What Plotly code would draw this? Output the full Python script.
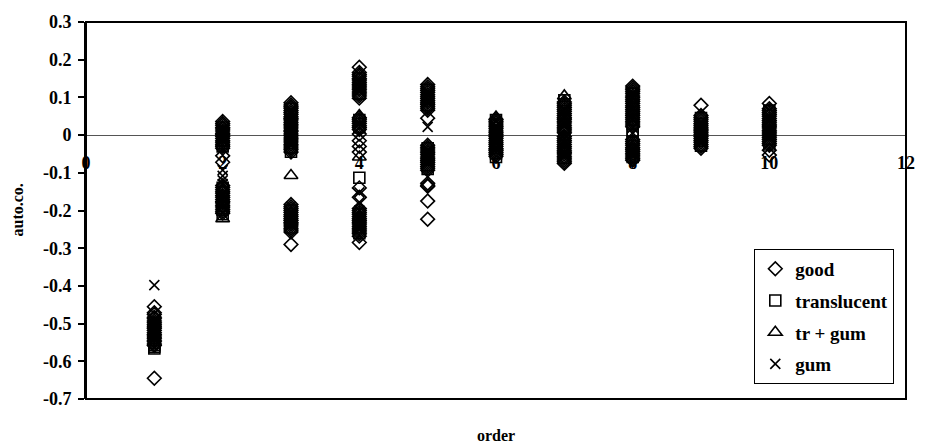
import plotly.graph_objects as go

# ---------------- data ----------------
orders = [1, 2, 3, 4, 5, 6, 7, 8, 9, 10]

good = {
    1: [-0.455, -0.471, -0.476, -0.483, -0.487, -0.493, -0.498, -0.503, -0.509, -0.513, -0.518, -0.524, -0.529, -0.533,
        -0.539, -0.544, -0.548, -0.554, -0.558, -0.645],
    2: [0.036, 0.031, 0.026, 0.02, 0.016, 0.011, 0.005, 0.001, -0.004, -0.009, -0.015, -0.019, -0.024, -0.03, -0.035,
        -0.055, -0.072,
        -0.134, -0.139, -0.145, -0.15, -0.154, -0.16, -0.165, -0.171, -0.176, -0.18, -0.186, -0.191, -0.197, -0.202, -0.207],
    3: [0.086, 0.08, 0.075, 0.071, 0.065, 0.06, 0.055, 0.049, 0.045, 0.04, 0.034, 0.029, 0.024, 0.019, 0.013, 0.009,
        0.003, -0.002, -0.008, -0.013, -0.018, -0.024, -0.029, -0.034, -0.039, -0.045,
        -0.184, -0.19, -0.195, -0.2, -0.205, -0.211, -0.216, -0.221, -0.226, -0.232, -0.236, -0.241, -0.247, -0.252,
        -0.257, -0.29],
    4: [0.18, 0.166, 0.161, 0.156, 0.15, 0.146, 0.14, 0.135, 0.13, 0.125, 0.12, 0.114, 0.109, 0.104, 0.098,
        0.046, 0.041, 0.036, 0.031, 0.025, 0.02, 0.015, 0.003, -0.015, -0.03, -0.045, -0.14, -0.165,
        -0.195, -0.2, -0.205, -0.21, -0.216, -0.221, -0.226, -0.231, -0.236, -0.242, -0.247, -0.252, -0.257, -0.262,
        -0.268, -0.285],
    5: [0.134, 0.128, 0.123, 0.118, 0.113, 0.107, 0.102, 0.097, 0.092, 0.087, 0.081, 0.076, 0.071, 0.066, 0.045,
        -0.027, -0.032, -0.037, -0.042, -0.047, -0.052, -0.058, -0.063, -0.068, -0.073, -0.078, -0.083, -0.088, -0.093,
        -0.128, -0.133, -0.136, -0.175, -0.223],
    6: [0.042, 0.037, 0.032, 0.027, 0.022, 0.017, 0.011, 0.006, 0.001, -0.004, -0.009, -0.015, -0.02, -0.025, -0.03,
        -0.036, -0.041, -0.046, -0.051, -0.056],
    7: [0.088, 0.083, 0.078, 0.073, 0.068, 0.063, 0.057, 0.052, 0.047, 0.042, 0.037, 0.032, 0.026, 0.021, 0.016, 0.011,
        0.006, -0.004, -0.009, -0.014, -0.019, -0.025, -0.03, -0.035, -0.04, -0.045, -0.05, -0.056, -0.061, -0.066,
        -0.071, -0.075],
    8: [0.13, 0.125, 0.12, 0.115, 0.11, 0.104, 0.099, 0.094, 0.089, 0.084, 0.078, 0.073, 0.068, 0.063, 0.058, 0.052,
        0.047, 0.042, 0.037, 0.032, 0.027, 0.022, -0.012, -0.017, -0.022, -0.027, -0.033, -0.038, -0.043, -0.048,
        -0.053, -0.058, -0.063, -0.067],
    9: [0.079, 0.052, 0.047, 0.042, 0.037, 0.031, 0.026, 0.021, 0.016, 0.011, 0.006, 0.001, -0.004, -0.009, -0.014,
        -0.019, -0.025, -0.03, -0.035],
    10: [0.084, 0.07, 0.065, 0.06, 0.055, 0.05, 0.044, 0.039, 0.034, 0.029, 0.024, 0.019, 0.013, 0.008, 0.003, -0.002,
         -0.007, -0.012, -0.017, -0.022, -0.027, -0.04, -0.053],
}

translucent = {
    1: [-0.498, -0.506, -0.513, -0.519, -0.526, -0.533, -0.539, -0.545, -0.551, -0.557, -0.562, -0.566],
    2: [0.02, 0.008, -0.006, -0.015, -0.022, -0.03, -0.14, -0.152, -0.163, -0.176, -0.187, -0.198, -0.21],
    3: [0.07, 0.055, 0.04, 0.022, 0.005, -0.01, -0.022, -0.033, -0.044, -0.2, -0.215, -0.23, -0.245],
    4: [0.15, 0.13, 0.11, 0.04, 0.02, -0.113, -0.21, -0.228, -0.245, -0.26],
    5: [0.12, 0.1, 0.08, -0.035, -0.05, -0.065, -0.08, -0.09],
    6: [0.04, 0.028, 0.012, -0.004, -0.02, -0.035, -0.048, -0.058],
    7: [0.092, 0.075, 0.058, 0.04, 0.022, 0.008, -0.01, -0.028, -0.045, -0.06],
    8: [0.11, 0.09, 0.07, 0.05, 0.03, 0.012, 0.0, -0.02, -0.04, -0.058],
    9: [0.045, 0.03, 0.015, 0.0, -0.015, -0.028],
    10: [0.065, 0.05, 0.035, 0.02, 0.005, -0.01, -0.025],
}

tr_gum = {
    1: [-0.5, -0.53, -0.55],
    2: [0.01, -0.02, -0.17, -0.2, -0.222],
    3: [0.05, -0.107, -0.22],
    4: [0.052, -0.058, -0.22],
    5: [0.09, -0.06],
    6: [0.048, -0.03],
    7: [0.104, 0.05, -0.04],
    8: [0.06, -0.03],
    9: [0.02],
    10: [0.03],
}

gum = {
    1: [-0.398, -0.51, -0.54],
    2: [-0.093, -0.108, -0.12, -0.13, -0.16, -0.19],
    3: [0.03, -0.01, -0.19, -0.24],
    4: [0.12, 0.03, -0.152, -0.178, -0.2, -0.25],
    5: [0.11, 0.022, -0.04, -0.07],
    6: [0.038, 0.0, -0.04],
    7: [0.03, -0.02],
    8: [0.1, 0.02, -0.05],
    9: [0.01, -0.02],
    10: [0.04, -0.005],
}

series_names = ["good", "translucent", "tr + gum", "gum"]
series_data = [good, translucent, tr_gum, gum]
series_symbols = ["diamond-open", "square-open", "triangle-up-open", "x-thin-open"]
series_sizes = [10.5, 11, 12, 10]

y_ticks = [-0.7, -0.6, -0.5, -0.4, -0.3, -0.2, -0.1, 0, 0.1, 0.2, 0.3]
y_ticktext = ["-0.7", "-0.6", "-0.5", "-0.4", "-0.3", "-0.2", "-0.1", "0", "0.1", "0.2", "0.3"]
x_ticks = [0, 2, 4, 6, 8, 10, 12]
x_ticktext = ["0", "2", "4", "6", "8", "10", "12"]

FONT = "Liberation Serif"

fig = go.Figure()
for i, (name, data, sym, sz) in enumerate(zip(series_names, series_data, series_symbols, series_sizes)):
    xs, ys = [], []
    for o in orders:
        for v in data[o]:
            xs.append(o)
            ys.append(v)
    fig.add_trace(go.Scatter(
        x=xs, y=ys, mode="markers", name=f"<b>{name}</b>", legendgroup=f"g{i}",
        marker=dict(symbol=sym, size=sz, color="black",
                    line=dict(color="black", width=1.6)),
    ))

fig.update_layout(
    width=927, height=448,
    margin=dict(l=86, r=14, t=14, b=49),
    paper_bgcolor="white", plot_bgcolor="white",
    font=dict(family=FONT, color="black", size=18),
    showlegend=True,
    legend=dict(
        x=0.815, y=0.398, xanchor="left", yanchor="top",
        bgcolor="white", bordercolor="black", borderwidth=1,
        font=dict(family=FONT, size=19, color="black"),
        itemwidth=30, tracegroupgap=4,
    ),
    xaxis=dict(
        range=[0, 12], tickvals=x_ticks, ticktext=[f"<b>{t}</b>" for t in x_ticktext],
        showgrid=False, zeroline=False,
        showline=True, linecolor="#555555", linewidth=1,
        anchor="free", position=0.7,
        ticks="", ticklabelstandoff=11,
        tickfont=dict(family=FONT, size=18, color="black"),
        layer="below traces",
    ),
    yaxis=dict(
        range=[-0.7, 0.3], tickvals=y_ticks, ticktext=[f"<b>{t}</b>" for t in y_ticktext],
        showgrid=False, zeroline=False,
        showline=True, linecolor="black", linewidth=2,
        ticks="outside", ticklen=6, tickwidth=1.5, tickcolor="black",
        ticklabelstandoff=3,
        tickfont=dict(family=FONT, size=18, color="black"),
    ),
    shapes=[dict(type="rect", xref="paper", yref="paper", x0=0, x1=1, y0=0, y1=1,
                 line=dict(color="black", width=2), layer="above")],
    annotations=[
        dict(text="<b>order</b>", xref="paper", yref="paper", x=0.5, y=0,
             xanchor="center", yanchor="middle", yshift=-36, showarrow=False,
             font=dict(family=FONT, size=16, color="black")),
        dict(text="<b>auto.co.</b>", xref="paper", yref="paper", x=0, y=0.5,
             xanchor="center", yanchor="middle", xshift=-69, textangle=-90, showarrow=False,
             font=dict(family=FONT, size=16, color="black")),
    ],
)

fig.write_html("out.html")
